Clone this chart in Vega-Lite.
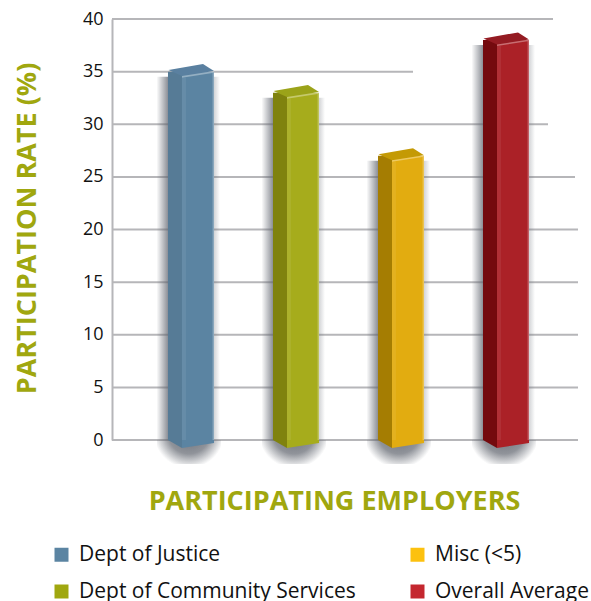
{"$schema":"https://vega.github.io/schema/vega-lite/v6.json","width":466,"height":421,"padding":{"left":112,"top":19,"right":13,"bottom":161},"autosize":{"type":"none"},"background":"white","config":{"view":{"stroke":null},"font":"Open Sans"},
"datasets":{"bars":[{"employer":"Dept of Justice","rate":35},{"employer":"Dept of Community Services","rate":33},{"employer":"Misc (<5)","rate":27},{"employer":"Overall Average","rate":38}],
"grid":[{"v":40,"start":0,"end":441},{"v":35,"start":0,"end":301},{"v":30,"start":0,"end":436},{"v":25,"start":0,"end":463},{"v":20,"start":0,"end":466},{"v":15,"start":0,"end":466},{"v":10,"start":0,"end":466},{"v":5,"start":0,"end":466},{"v":0,"start":0,"end":466}]},
"layer":[
{"data":{"name":"grid"},"mark":{"type":"rule","color":"#b6b6b9","strokeWidth":2},"encoding":{"x":{"field":"start","type":"quantitative","scale":{"domain":[0,466]},"axis":null},"x2":{"field":"end"},"y":{"field":"v","type":"quantitative","scale":{"domain":[0,40],"nice":false},"axis":{"values":[0,5,10,15,20,25,30,35,40],"grid":false,"ticks":false,"domainColor":"#b6b6b9","domainWidth":2,"labelFontSize":18,"labelColor":"#111","labelPadding":9,"labelFont":"Open Sans","title":"PARTICIPATION RATE (%)","titleFont":"Open Sans","titleFontSize":27,"titleFontWeight":"bold","titleColor":"#a0a70f","titleX":-71,"titleY":209}}}},
{"data":{"name":"bars"},
"encoding":{"x":{"field":"employer","type":"nominal","sort":null,"scale":{"paddingInner":0,"paddingOuter":0.219,"align":0.576},"axis":{"labels":false,"ticks":false,"domain":false,"title":"PARTICIPATING EMPLOYERS","titleFont":"Open Sans","titleFontSize":27,"titleFontWeight":"bold","titleColor":"#a0a70f","titleX":222,"titleY":48}}},
"layer":[
{"mark":{"type":"point","shape":"M-34,0L30,0L30,24L-34,24Z","size":4,"filled":true,"opacity":1,"fill":{"gradient":"radial","x1":0.5,"y1":0.2,"r1":0,"x2":0.5,"y2":0.2,"r2":0.55,"stops":[{"offset":0,"color":"rgba(85,90,100,0.9)"},{"offset":0.6,"color":"rgba(85,90,100,0.65)"},{"offset":1,"color":"rgba(85,90,100,0)"}]}},"encoding":{"y":{"datum":0,"type":"quantitative"}}},
{"mark":{"type":"bar","width":12,"xOffset":-28.5,"yOffset":5,"fill":{"gradient":"linear","x1":0,"x2":1,"y1":0,"y2":0,"stops":[{"offset":0,"color":"rgba(95,100,110,0)"},{"offset":1,"color":"rgba(95,100,110,0.75)"}]}},"encoding":{"y":{"field":"rate","type":"quantitative","stack":null}}},
{"mark":{"type":"bar","width":6,"xOffset":26,"yOffset":5,"fill":{"gradient":"linear","x1":0,"x2":1,"y1":0,"y2":0,"stops":[{"offset":0,"color":"rgba(95,100,110,0.28)"},{"offset":1,"color":"rgba(95,100,110,0)"}]}},"encoding":{"y":{"field":"rate","type":"quantitative","stack":null}}},
{"mark":{"type":"point","opacity":0,"filled":true,"shape":"square","size":1},"encoding":{"y":{"field":"rate","type":"quantitative"},"color":{"field":"employer","type":"nominal","scale":{"domain":["Dept of Justice","Dept of Community Services","Misc (<5)","Overall Average"],"range":["#5b84a2","#a0a70f","#fcc10f","#c4272f"]},"legend":{"title":null,"orient":"none","legendX":-61,"legendY":525,"columns":2,"symbolType":"square","symbolSize":196,"symbolOpacity":1,"symbolStrokeWidth":0,"labelFont":"Open Sans","labelFontSize":21,"labelColor":"#111","labelLimit":400,"labelOffset":7,"columnPadding":51,"rowPadding":15}}}},
{"mark":{"type":"bar","width":14,"xOffset":-16},"encoding":{"y":{"field":"rate","type":"quantitative","stack":null},"color":{"field":"employer","type":"nominal","legend":null,"scale":{"domain":["Dept of Justice","Dept of Community Services","Misc (<5)","Overall Average"],"range":["#567b96","#7f820e","#a57d02","#740a0e"]}}}},
{"mark":{"type":"bar","width":32,"xOffset":7},"encoding":{"y":{"field":"rate","type":"quantitative","stack":null},"color":{"field":"employer","type":"nominal","legend":null,"scale":{"domain":["Dept of Justice","Dept of Community Services","Misc (<5)","Overall Average"],"range":["#5b84a2","#a6ac1c","#e2ac10","#ab2127"]}}}},
{"mark":{"type":"point","shape":"M-23,0L-9,8L-9,0Z","size":4,"filled":true,"opacity":1},"encoding":{"y":{"datum":0,"type":"quantitative"},"color":{"field":"employer","type":"nominal","legend":null,"scale":{"domain":["Dept of Justice","Dept of Community Services","Misc (<5)","Overall Average"],"range":["#567b96","#7f820e","#a57d02","#740a0e"]}}}},
{"mark":{"type":"point","shape":"M-9,0L-9,8L23,3L23,0Z","size":4,"filled":true,"opacity":1},"encoding":{"y":{"datum":0,"type":"quantitative"},"color":{"field":"employer","type":"nominal","legend":null,"scale":{"domain":["Dept of Justice","Dept of Community Services","Misc (<5)","Overall Average"],"range":["#5b84a2","#a6ac1c","#e2ac10","#ab2127"]}}}},
{"mark":{"type":"point","shape":"M-22.5,-1.6L12,-7.6L23,-0.6L-9,4.4Z","size":4,"filled":true,"opacity":1},"encoding":{"y":{"field":"rate","type":"quantitative"},"color":{"field":"employer","type":"nominal","legend":null,"scale":{"domain":["Dept of Justice","Dept of Community Services","Misc (<5)","Overall Average"],"range":["#5a80a0","#9ba319","#c49a05","#941b22"]}}}},
{"mark":{"type":"point","shape":"M-9,4.4L23,-0.6L23,1L-9,6Z","size":4,"filled":true,"opacity":1,"fill":"#ffffff","fillOpacity":0.35},"encoding":{"y":{"field":"rate","type":"quantitative"}}},
{"mark":{"type":"bar","width":1.5,"xOffset":22.3,"yOffset":1,"fill":"#ffffff","fillOpacity":0.28},"encoding":{"y":{"field":"rate","type":"quantitative","stack":null}}},
{"mark":{"type":"bar","width":4,"xOffset":-7,"yOffset":6,"fill":"#ffffff","fillOpacity":0.07},"encoding":{"y":{"field":"rate","type":"quantitative","stack":null}}}
],
"resolve":{"scale":{"color":"independent"}}}
],
"resolve":{"scale":{"x":"independent"},"axis":{"x":"independent"}}}
